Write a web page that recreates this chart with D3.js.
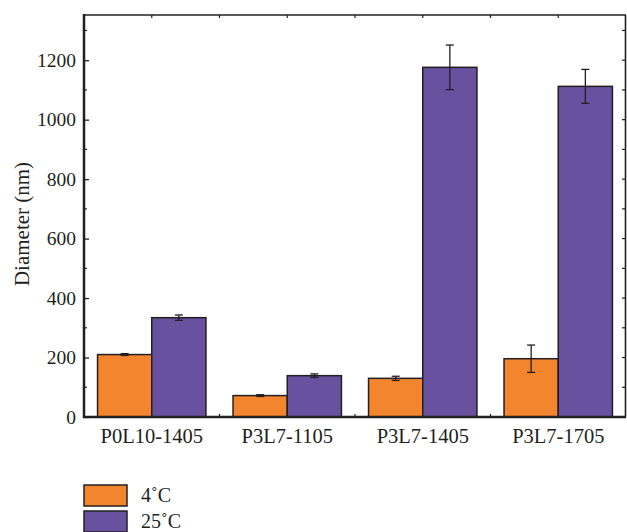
<!DOCTYPE html>
<html>
<head>
<meta charset="utf-8">
<script src="https://cdn.jsdelivr.net/npm/d3@7"></script>
<style>
  body { margin: 0; background: #fff; }
  text { font-family: "Liberation Serif", "DejaVu Serif", serif; fill: #231f20; }
</style>
</head>
<body>
<svg width="627" height="532"></svg>
<script>
// data
const samples = ['P0L10-1405', 'P3L7-1105', 'P3L7-1405', 'P3L7-1705']
const series = ['4˚C', '25˚C']
const colors = ['#f3852e', '#68519f']
const mean4 = [210, 72, 130, 196]
const err4 = [3, 3, 7, 46]
const mean25 = [334, 139, 1176, 1112]
const err25 = [9, 6, 75, 57]
const yTicks = [0, 200, 400, 600, 800, 1000, 1200]

const svg = d3.select('svg')
const margin = { left: 84, top: 15, right: 1, bottom: 115 }
const W = 627, H = 532
const x0 = margin.left, x1 = W - margin.right
const y0 = H - margin.bottom, y1 = margin.top

// scales
const x = d3.scaleBand().domain(samples).range([x0, x1]).padding(0)
const xs = d3.scaleBand().domain(series).range([0, x.bandwidth()]).paddingOuter(0.25).paddingInner(0)
const y = d3.scaleLinear().domain([0, 1352]).range([y0, y1])

const rows = samples.map((s, i) => ({
  sample: s,
  vals: [
    { key: series[0], v: mean4[i], e: err4[i], c: colors[0] },
    { key: series[1], v: mean25[i], e: err25[i], c: colors[1] }
  ]
}))

// half-band positions for top/bottom ticks
const halfTicks = []
samples.forEach(s => {
  halfTicks.push(x(s))
  halfTicks.push(x(s) + x.bandwidth() / 2)
})
halfTicks.push(x1)

// frame: top and right
svg.append('line').attr('x1', x0).attr('x2', x1).attr('y1', y1).attr('y2', y1)
  .attr('stroke', '#231f20').attr('stroke-width', 1.6)
svg.append('line').attr('x1', x1 - 0.5).attr('x2', x1 - 0.5).attr('y1', y1).attr('y2', y0)
  .attr('stroke', '#231f20').attr('stroke-width', 1.6)

// top ticks
svg.append('g').selectAll('line').data(halfTicks.slice(1, -1)).enter().append('line')
  .attr('x1', d => d).attr('x2', d => d).attr('y1', y1).attr('y2', y1 + 3)
  .attr('stroke', '#231f20').attr('stroke-width', 1.2)

// bottom ticks
svg.append('g').selectAll('line').data(halfTicks.slice(1, -1)).enter().append('line')
  .attr('x1', d => d).attr('x2', d => d).attr('y1', y0).attr('y2', y0 - 3)
  .attr('stroke', '#231f20').attr('stroke-width', 1.2)

// bars
const groups = svg.append('g').selectAll('g').data(rows).enter().append('g')
  .attr('transform', d => `translate(${x(d.sample)},0)`)

groups.selectAll('rect').data(d => d.vals).enter().append('rect')
  .attr('x', d => xs(d.key))
  .attr('y', d => y(d.v))
  .attr('width', xs.bandwidth())
  .attr('height', d => y(0) - y(d.v))
  .attr('fill', d => d.c)
  .attr('stroke', '#231f20')
  .attr('stroke-width', 1.5)

// error bars
const eb = groups.selectAll('g.err').data(d => d.vals).enter().append('g').classed('err', true)
eb.append('line')
  .attr('x1', d => xs(d.key) + xs.bandwidth() / 2)
  .attr('x2', d => xs(d.key) + xs.bandwidth() / 2)
  .attr('y1', d => y(d.v + d.e)).attr('y2', d => y(d.v - d.e))
  .attr('stroke', '#231f20').attr('stroke-width', 1.3)
eb.selectAll('line.cap').data(d => [d.v + d.e, d.v - d.e].map(v => ({ v, k: d.key }))).enter()
  .append('line').classed('cap', true)
  .attr('x1', d => xs(d.k) + xs.bandwidth() / 2 - 4)
  .attr('x2', d => xs(d.k) + xs.bandwidth() / 2 + 4)
  .attr('y1', d => y(d.v)).attr('y2', d => y(d.v))
  .attr('stroke', '#231f20').attr('stroke-width', 1.3)

// left axis
const yAxis = svg.append('g').attr('transform', `translate(${x0},0)`)
  .call(d3.axisLeft(y).tickValues(yTicks).tickFormat(d3.format('d')).tickSize(-5).tickPadding(8))
yAxis.select('.domain').remove()
yAxis.selectAll('line').attr('stroke', '#231f20').attr('stroke-width', 1.3)
yAxis.selectAll('text').style('font-size', '19.5px').attr('fill', '#231f20')
  .style('font-family', '"Liberation Serif", serif')

// minor ticks at odd hundreds
const minor = d3.range(100, 1400, 200)
svg.append('g').selectAll('line').data(minor).enter().append('line')
  .attr('x1', x0).attr('x2', x0 + 3).attr('y1', d => y(d)).attr('y2', d => y(d))
  .attr('stroke', '#231f20').attr('stroke-width', 1.2)
// right side ticks mirrored
svg.append('g').selectAll('line').data(yTicks.concat(minor)).enter().append('line')
  .attr('x1', x1 - 1).attr('x2', x1 - 4).attr('y1', d => y(d)).attr('y2', d => y(d))
  .attr('stroke', '#231f20').attr('stroke-width', 1.2)

svg.append('line').attr('x1', x0).attr('x2', x0).attr('y1', y1 - 1).attr('y2', y0 + 1)
  .attr('stroke', '#231f20').attr('stroke-width', 2.5)
svg.append('line').attr('x1', x0 - 1).attr('x2', x1).attr('y1', y0).attr('y2', y0)
  .attr('stroke', '#231f20').attr('stroke-width', 2.5)

// category labels
svg.append('g').selectAll('text').data(samples).enter().append('text')
  .attr('x', d => x(d) + x.bandwidth() / 2)
  .attr('y', y0 + 26)
  .attr('text-anchor', 'middle')
  .style('font-size', '20.5px')
  .text(d => d)

// y label
svg.append('text')
  .attr('transform', `translate(29,224) rotate(-90)`)
  .attr('text-anchor', 'middle')
  .style('font-size', '21px')
  .text('Diameter (nm)')

// legend (nudged up a little so the second label stays inside the picture)
const leg = svg.append('g').attr('transform', 'translate(84,485)')
const li = leg.selectAll('g').data(series).enter().append('g')
  .attr('transform', (d, i) => `translate(0,${i * 26})`)
li.append('rect').attr('width', 43).attr('height', 21)
  .attr('fill', (d, i) => colors[i]).attr('stroke', '#231f20').attr('stroke-width', 1.5)
li.append('text').attr('x', 57).attr('y', 17).style('font-size', '20px').text(d => d)
</script>
</body>
</html>
